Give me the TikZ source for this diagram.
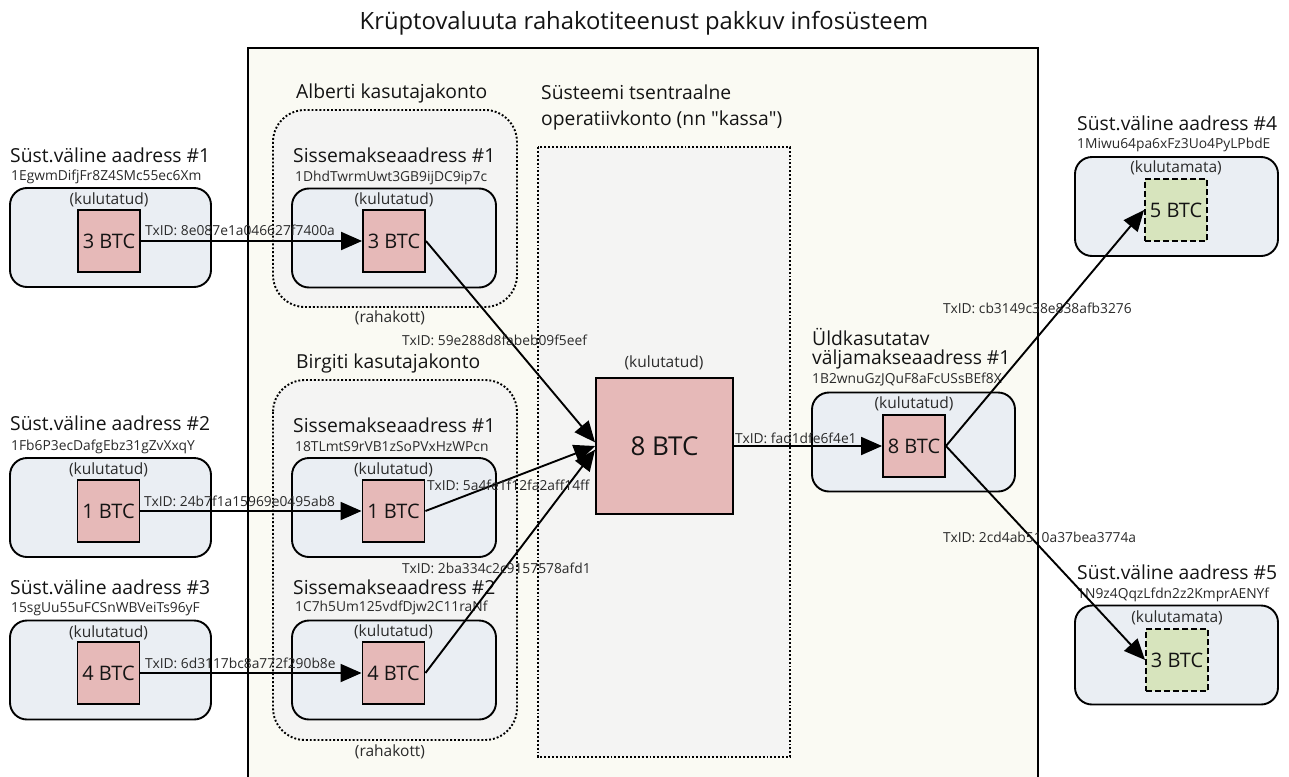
\documentclass[tikz,border=0pt]{standalone}
\usepackage{fontspec}
\setmainfont{Open Sans}
\newfontfamily\plainquote{Open Sans}
\usetikzlibrary{arrows.meta}
\definecolor{coinpink}{HTML}{E6B9B8}
\definecolor{coingreen}{HTML}{D7E4BD}
\definecolor{boxfill}{HTML}{EAEEF3}
\definecolor{framefill}{HTML}{FAFAF3}
\definecolor{zonefill}{HTML}{F4F4F3}
\definecolor{txt}{HTML}{141414}
\definecolor{subtxt}{HTML}{2A2A2A}
\tikzset{
  ttl/.style={font=\fontsize{19.3}{22}\selectfont, anchor=west, inner sep=0, text=txt},
  addr/.style={font=\fontsize{13.8}{15}\selectfont, anchor=west, inner sep=0, text=subtxt},
  ubox/.style={draw, line width=1.9pt, rounded corners=17pt, fill=boxfill, minimum height=99pt, inner sep=0},
  state/.style={font=\fontsize{15.5}{17}\selectfont, inner sep=0, text=subtxt},
  coin/.style={draw, line width=1.9pt, fill=coinpink, minimum width=62pt, minimum height=62pt, inner sep=0, font=\fontsize{20}{22}\selectfont, text=txt},
  ucoin/.style={draw, dashed, dash pattern=on 6pt off 3pt, line width=1.9pt, fill=coingreen, minimum width=62pt, minimum height=62pt, inner sep=0, font=\fontsize{20}{22}\selectfont, text=txt},
  txid/.style={font=\fontsize{13.8}{15}\selectfont, anchor=west, inner sep=0, text=subtxt},
  zone/.style={draw, line width=1.9pt, dotted, fill=zonefill},
  arr/.style={line width=1.9pt, -{Triangle[length=21pt,width=18pt]}},
}
\begin{document}
\begin{tikzpicture}[x=1pt,y=-1pt]
\clip (0,0) rectangle (1289,776);
\fill[white] (0,0) rectangle (1289,776);

% title and frame
\node[font=\fontsize{23.8}{27}\selectfont, text=txt, inner sep=0] (title) at (644,23) {Krüptovaluuta rahakotiteenust pakkuv infosüsteem};
\draw[line width=2.4pt, fill=framefill] (248,48) rectangle (1038,800);

% zones
\draw[zone, rounded corners=32pt] (273,110) rectangle (517,307);
\draw[zone, rounded corners=32pt] (273,380) rectangle (517,740);
\draw[zone] (538,147) rectangle (790,757);
\node[ttl] (alberti) at (296,93) {Alberti kasutajakonto};
\node[ttl] (birgiti) at (296,363) {Birgiti kasutajakonto};
\node[state] (rk1) at (390,318) {(rahakott)};
\node[state] (rk2) at (390,752) {(rahakott)};
\node[ttl] (kassa1) at (541,92) {Süsteemi tsentraalne};
\node[ttl] (kassa2) at (541,120) {operatiivkonto (nn {\plainquote"}kassa{\plainquote"})};

% left column
\node[ttl] (t1) at (10,155) {Süst.väline aadress \#1};
\node[addr] (ad1) at (11,177) {1EgwmDifjFr8Z4SMc55ec6Xm};
\node[ubox, minimum width=201pt] (bx1) at (110.5,237.5) {};
\node[state] (s1) at (109,200) {(kulutatud)};
\node[coin] (c1) at (109,241) {3 BTC};

\node[ttl] (t2) at (10,423) {Süst.väline aadress \#2};
\node[addr] (ad2) at (11,447) {1Fb6P3ecDafgEbz31gZvXxqY};
\node[ubox, minimum width=201pt] (bx2) at (110.5,507.5) {};
\node[state] (s2) at (108.5,470) {(kulutatud)};
\node[coin] (c2) at (108.5,511) {1 BTC};

\node[ttl] (t3) at (10,587) {Süst.väline aadress \#3};
\node[addr] (ad3) at (11,609) {15sgUu55uFCSnWBVeiTs96yF};
\node[ubox, minimum width=201pt] (bx3) at (110.5,670) {};
\node[state] (s3) at (108.5,633) {(kulutatud)};
\node[coin] (c3) at (108.5,673) {4 BTC};

% user deposit addresses
\node[ttl] (ta1) at (293,155) {Sissemakseaadress \#1};
\node[addr] (ada1) at (295,178) {1DhdTwrmUwt3GB9ijDC9ip7c};
\node[ubox, minimum width=204pt] (bxa1) at (394,238) {};
\node[state] (sa1) at (394,200) {(kulutatud)};
\node[coin] (a1) at (394,241) {3 BTC};

\node[ttl] (tb1) at (293,425) {Sissemakseaadress \#1};
\node[addr] (adb1) at (295,447) {18TLmtS9rVB1zSoPVxHzWPcn};
\node[ubox, minimum width=204pt] (bxb1) at (394,507.5) {};
\node[state] (sb1) at (393.5,470) {(kulutatud)};
\node[coin] (b1) at (393.5,511) {1 BTC};

\node[ttl] (tb2) at (293,587) {Sissemakseaadress \#2};
\node[addr] (adb2) at (295,608) {1C7h5Um125vdfDjw2C11raNf};
\node[ubox, minimum width=204pt] (bxb2) at (394,670) {};
\node[state] (sb2) at (393.5,632) {(kulutatud)};
\node[coin] (b2) at (393.5,673) {4 BTC};

% central
\node[state] (sbig) at (664,363) {(kulutatud)};
\node[coin, minimum width=137pt, minimum height=136pt, font=\fontsize{26}{28}\selectfont] (big) at (664.5,446) {8 BTC};

% withdrawal address
\node[ttl] (tu1) at (812,337) {Üldkasutatav};
\node[ttl] (tu2) at (812,359) {väljamakseaadress \#1};
\node[addr] (adu) at (812,380) {1B2wnuGzJQuF8aFcUSsBEf8X};
\node[ubox, minimum width=203pt] (bxu) at (913.5,442) {};
\node[state] (su) at (914,404) {(kulutatud)};
\node[coin] (u) at (914,446) {8 BTC};

% right column
\node[ttl] (t4) at (1077,123) {Süst.väline aadress \#4};
\node[addr] (ad4) at (1077,145) {1Miwu64pa6xFz3Uo4PyLPbdE};
\node[ubox, minimum width=203pt] (bx4) at (1176.5,206.5) {};
\node[state] (s4) at (1176,168) {(kulutamata)};
\node[ucoin] (o4) at (1176,210) {5 BTC};

\node[ttl] (t5) at (1077,572) {Süst.väline aadress \#5};
\node[addr] (ad5) at (1077,595) {1N9z4QqzLfdn2z2KmprAENYf};
\node[ubox, minimum width=203pt] (bx5) at (1176.5,655) {};
\node[state] (s5) at (1177,618) {(kulutamata)};
\node[ucoin] (o5) at (1177,660) {3 BTC};

% connectors
\draw[arr] (c1) -- (a1);
\draw[arr] (c2) -- (b1);
\draw[arr] (c3) -- (b2);
\draw[arr] (a1.east) -- (big.177);
\draw[arr] (b1.east) -- (big.west);
\draw[arr] (b2.east) -- (big.183);
\draw[arr] (big) -- (u);
\draw[arr] (u.east) -- (o4.west);
\draw[arr] (u.east) -- (o5.west);

% transaction ids
\node[txid] (x1) at (145,230) {TxID: 8e087e1a046627f7400a};
\node[txid] (x2) at (144,501) {TxID: 24b7f1a15969e0495ab8};
\node[txid] (x3) at (145,663) {TxID: 6d3117bc8a772f290b8e};
\node[txid] (x4) at (402,340) {TxID: 59e288d8fabeb09f5eef};
\node[txid] (x5) at (427,485) {TxID: 5a4fe1f12fa2aff14ff};
\node[txid] (x6) at (402,568) {TxID: 2ba334c2c9157578afd1};
\node[txid] (x7) at (735,438) {TxID: fad1dfe6f4e1};
\node[txid] (x8) at (943,308) {TxID: cb3149c38e838afb3276};
\node[txid] (x9) at (943,537) {TxID: 2cd4ab510a37bea3774a};
\end{tikzpicture}
\end{document}
